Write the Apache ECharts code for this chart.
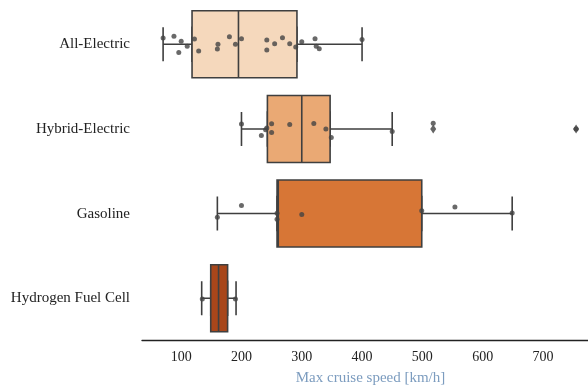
<!DOCTYPE html>
<html>
<head>
<meta charset="utf-8">
<script src="https://cdn.jsdelivr.net/npm/echarts@6/dist/echarts.min.js"></script>
<style>
html, body { margin: 0; padding: 0; background: #fff; }
#chart { width: 588px; height: 387px; }
</style>
</head>
<body>
<div id="chart"></div>
<script>
// categories, top to bottom
const categories = ['All-Electric', 'Hybrid-Electric', 'Gasoline', 'Hydrogen Fuel Cell'];
const tickValues = [100, 200, 300, 400, 500, 600, 700];

// box stats per category: [lower whisker, Q1, median, Q3, upper whisker] in km/h
const boxStats = [
    [70, 118, 195, 292, 400],
    [200, 243, 300, 347, 450],
    [160, 259, 261, 499, 649],
    [134, 149, 162, 177, 191]
];
const boxColors = ['#f5d8bc', '#eaa974', '#d77636', '#a8461a'];

// single observations (strip points) and their vertical jitter in category units
const allElectric = [70, 88, 96, 100, 110, 122, 129, 160, 161, 180, 190, 200, 242, 242, 255, 268, 280, 290, 300, 322, 324, 329, 400];
const allElectricJitter = [-0.076, -0.095, 0.098, -0.036, 0.024, -0.064, 0.078, 0.054, 0, -0.088, 0, -0.067, -0.05, 0.066, -0.008, -0.077, -0.006, 0.031, -0.03, -0.067, 0.024, 0.053, -0.058];
const hybridElectric = [200, 233, 240, 242, 250, 250, 280, 320, 340, 349, 450, 518, 755];
const hybridElectricJitter = [-0.058, 0.077, 0.01, -0.011, -0.062, 0.041, -0.053, -0.065, 0, 0.1, 0.03, -0.067, 0];
const gasoline = [160, 200, 259, 259, 300, 499, 554, 649];
const gasolineJitter = [0.043, -0.095, -0.005, 0.066, 0.012, -0.032, -0.079, -0.008];
const hydrogen = [135, 190];
const hydrogenJitter = [0.01, 0.01];

// box plot fliers (Hybrid-Electric)
const hybridOutliers = [518, 755];

const strips = [
    [allElectric, allElectricJitter],
    [hybridElectric, hybridElectricJitter],
    [gasoline, gasolineJitter],
    [hydrogen, hydrogenJitter]
];

let stripData = [];
strips.forEach(function (s, i) {
    s[0].forEach(function (v, j) {
        stripData.push([v, i + s[1][j]]);
    });
});

const lineColor = '#3f3f3f';
const serif = "'Liberation Serif', 'DejaVu Serif', serif";

let option = {
    animation: false,
    backgroundColor: '#ffffff',
    grid: {
        left: 142,
        top: 2,
        width: 457,
        height: 338.5,
        containLabel: false,
        outerBoundsMode: 'none'
    },
    xAxis: {
        type: 'value',
        min: 35,
        max: 793,
        splitNumber: 7,
        axisLine: {
            show: true,
            onZero: false,
            lineStyle: { color: '#222', width: 1.4 }
        },
        axisTick: { show: false },
        splitLine: { show: false },
        axisLabel: {
            color: '#222',
            fontFamily: serif,
            fontSize: 14,
            margin: 10,
            showMinLabel: false,
            showMaxLabel: false,
            formatter: function (v) {
                return tickValues.indexOf(v) >= 0 ? String(v) : '';
            }
        },
        name: 'Max cruise speed [km/h]',
        nameLocation: 'middle',
        nameGap: 30,
        nameTextStyle: {
            color: '#7c9cbf',
            fontFamily: serif,
            fontSize: 15
        }
    },
    yAxis: [{
        type: 'category',
        data: categories,
        inverse: true,
        axisLine: { show: false },
        axisTick: { show: false },
        splitLine: { show: false },
        axisLabel: {
            color: '#222',
            fontFamily: serif,
            fontSize: 15,
            margin: 12
        }
    }, {
        type: 'value',
        min: -0.5,
        max: 3.5,
        inverse: true,
        show: false,
        splitLine: { show: false }
    }, {
        // second copy of the category axis so the whisker layer is not placed side by side
        type: 'category',
        data: categories,
        inverse: true,
        show: false
    }],
    series: [{
        // whiskers and half-width caps
        name: 'whiskers',
        type: 'boxplot',
        yAxisIndex: 2,
        boxWidth: [34, 34],
        itemStyle: {
            color: 'rgba(0,0,0,0)',
            borderColor: lineColor,
            borderWidth: 1.6
        },
        emphasis: { disabled: true },
        data: boxStats
    }, {
        // boxes
        name: 'boxes',
        type: 'boxplot',
        yAxisIndex: 0,
        boxWidth: [67, 67],
        emphasis: { disabled: true },
        data: boxStats.map(function (b, i) {
            return {
                value: [b[1], b[1], b[2], b[3], b[3]],
                itemStyle: {
                    color: boxColors[i],
                    borderColor: lineColor,
                    borderWidth: 1.6
                }
            };
        })
    }, {
        name: 'fliers',
        type: 'scatter',
        yAxisIndex: 1,
        symbol: 'diamond',
        symbolSize: [6, 9],
        itemStyle: { color: lineColor },
        data: hybridOutliers.map(function (v) { return [v, 1]; })
    }, {
        name: 'points',
        type: 'scatter',
        yAxisIndex: 1,
        symbolSize: 5,
        itemStyle: { color: '#444444' },
        data: stripData
    }]
};

let myChart = echarts.init(document.getElementById('chart'));
myChart.setOption(option);
</script>
</body>
</html>
